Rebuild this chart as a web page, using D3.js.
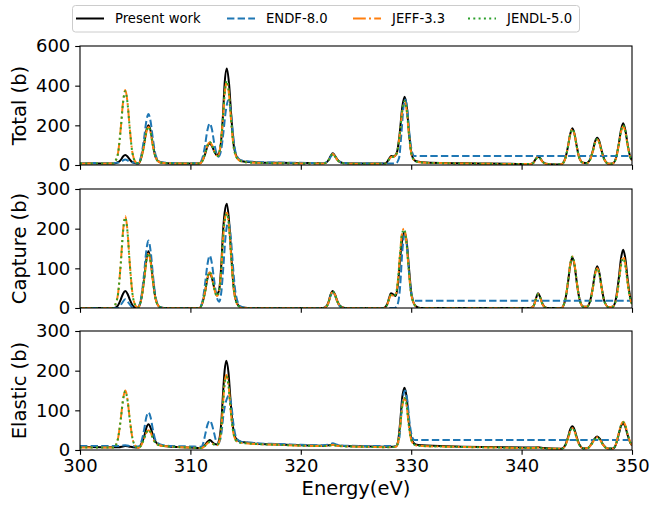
<!DOCTYPE html>
<html>
<head>
<meta charset="utf-8">
<script src="https://cdn.jsdelivr.net/npm/d3@7"></script>
<style>
  body { margin: 0; background: #fff; }
  svg { display: block; font-family: "DejaVu Sans", sans-serif; }
</style>
</head>
<body>
<svg id="chart" width="653" height="505"></svg>
<script>
// Axis ticks
const energyTicks = [300, 310, 320, 330, 340, 350];
const totalTicks = [0, 200, 400, 600];
const captureTicks = [0, 100, 200, 300];
const elasticTicks = [0, 100, 200, 300];

const seriesNames = ["Present work", "ENDF-8.0", "JEFF-3.3", "JENDL-5.0"];
const panelLabels = ["Total (b)", "Capture (b)", "Elastic (b)"];

// Cross sections, [energy (eV), barns]
const totalPresent = [[300,9],[302,8],[303.1,8],[303.45,14],[303.7,26],[303.9,43],[304.1,50],[304.3,43],[304.5,28],[304.75,14],[305.1,8],[305.3,7],[305.55,38],[305.8,104],[306.0,172],[306.2,201],[306.4,172],[306.6,104],[306.85,40],[307.2,15],[307.6,10],[308.5,8],[310,7],[310.8,7],[311.1,22],[311.35,58],[311.55,95],[311.75,109],[311.95,96],[312.15,70],[312.4,50],[312.6,60],[312.8,130],[312.95,250],[313.1,410],[313.3,487],[313.5,410],[313.7,250],[313.95,90],[314.3,32],[314.7,19],[315,16],[316,13],[318,11],[320,10],[322,9],[322.3,12],[322.5,24],[322.7,45],[322.9,59],[323.1,46],[323.3,28],[323.6,14],[324,9],[326,7],[327.6,7],[327.8,14],[328.0,32],[328.2,45],[328.45,44],[328.7,62],[328.95,155],[329.2,295],[329.4,344],[329.6,292],[329.8,165],[330.05,52],[330.4,20],[331,14],[333,10],[336,8],[339,6],[340.8,5],[341.1,14],[341.3,32],[341.5,42],[341.7,33],[341.9,17],[342.2,7],[343,3],[343.6,4],[343.95,32],[344.2,93],[344.4,155],[344.6,185],[344.8,155],[345.0,93],[345.25,32],[345.6,11],[345.9,10],[346.2,28],[346.45,72],[346.65,118],[346.85,138],[347.05,118],[347.25,72],[347.5,28],[347.9,6],[348.25,8],[348.55,35],[348.8,105],[349.0,176],[349.2,210],[349.4,176],[349.6,105],[349.85,40],[350,25]];
const totalEndf = [[300,10],[303,10],[303.5,12],[303.8,20],[304.1,28],[304.4,21],[304.8,12],[305.3,10],[305.55,48],[305.8,132],[306.0,218],[306.2,257],[306.4,218],[306.6,132],[306.85,50],[307.2,17],[307.6,12],[308.5,10],[310,9],[310.8,9],[311.05,28],[311.3,90],[311.55,178],[311.75,210],[311.95,180],[312.15,112],[312.35,62],[312.55,42],[312.8,80],[313.0,170],[313.2,270],[313.45,328],[313.65,272],[313.85,162],[314.1,62],[314.5,26],[315,19],[316,15],[318,12],[320,11],[322,10],[322.3,13],[322.5,23],[322.7,41],[322.9,55],[323.1,43],[323.3,27],[323.6,14],[324,10],[326,8],[328.6,8],[328.9,35],[329.1,150],[329.3,290],[329.45,330],[329.65,280],[329.85,150],[330.1,62],[330.3,45],[350,45]];
const totalJeff = [[300,8],[303,8],[303.2,20],[303.45,62],[303.7,190],[303.9,318],[304.1,378],[304.3,318],[304.5,190],[304.75,62],[305.05,14],[305.3,8],[305.55,36],[305.8,98],[306.0,163],[306.2,191],[306.4,163],[306.6,98],[306.85,38],[307.2,14],[307.6,10],[308.5,8],[310,7],[310.8,7],[311.1,23],[311.35,62],[311.55,100],[311.75,115],[311.95,101],[312.15,72],[312.35,49],[312.5,46],[312.75,110],[312.95,235],[313.1,355],[313.3,420],[313.5,355],[313.7,215],[313.95,80],[314.3,29],[314.7,17],[315,14],[316,11],[318,9],[320,8],[322,8],[322.3,11],[322.5,22],[322.7,42],[322.9,56],[323.1,43],[323.3,26],[323.6,13],[324,8],[326,6],[327.6,6],[327.8,12],[328.0,28],[328.2,40],[328.45,42],[328.7,60],[328.95,145],[329.2,275],[329.4,320],[329.6,272],[329.8,152],[330.05,48],[330.4,18],[331,12],[333,9],[336,7],[339,5],[340.8,5],[341.1,13],[341.3,30],[341.5,40],[341.7,31],[341.9,16],[342.2,6],[343,3],[343.6,4],[343.95,31],[344.2,92],[344.4,152],[344.6,180],[344.8,152],[345.0,92],[345.25,32],[345.6,10],[345.9,9],[346.2,26],[346.45,68],[346.65,110],[346.85,130],[347.05,110],[347.25,68],[347.5,26],[347.9,6],[348.25,8],[348.55,33],[348.8,100],[349.0,165],[349.2,195],[349.4,165],[349.6,100],[349.85,38],[350,24]];
const totalJendl = [[300,8],[303,8],[303.2,20],[303.45,60],[303.7,188],[303.9,314],[304.1,372],[304.3,314],[304.5,188],[304.75,60],[305.05,14],[305.3,8],[305.55,36],[305.8,98],[306.0,163],[306.2,192],[306.4,163],[306.6,98],[306.85,38],[307.2,14],[307.6,10],[308.5,8],[310,7],[310.8,7],[311.1,23],[311.35,62],[311.55,100],[311.75,116],[311.95,101],[312.15,72],[312.35,49],[312.5,46],[312.75,112],[312.95,238],[313.1,360],[313.3,425],[313.5,358],[313.7,216],[313.95,80],[314.3,29],[314.7,17],[315,14],[316,11],[318,9],[320,8],[322,8],[322.3,11],[322.5,22],[322.7,42],[322.9,56],[323.1,43],[323.3,26],[323.6,13],[324,8],[326,6],[327.6,6],[327.8,12],[328.0,28],[328.2,40],[328.45,42],[328.7,60],[328.95,146],[329.2,277],[329.4,322],[329.6,274],[329.8,153],[330.05,48],[330.4,18],[331,12],[333,9],[336,7],[339,5],[340.8,5],[341.1,13],[341.3,30],[341.5,40],[341.7,31],[341.9,16],[342.2,6],[343,3],[343.6,4],[343.95,31],[344.2,92],[344.4,153],[344.6,181],[344.8,153],[345.0,92],[345.25,32],[345.6,10],[345.9,9],[346.2,26],[346.45,68],[346.65,111],[346.85,131],[347.05,111],[347.25,68],[347.5,26],[347.9,6],[348.25,8],[348.55,34],[348.8,103],[349.0,169],[349.2,200],[349.4,169],[349.6,102],[349.85,38],[350,24]];

const capturePresent = [[300,0],[303.1,0],[303.45,7],[303.7,22],[303.9,36],[304.1,43],[304.3,36],[304.5,22],[304.75,7],[305.1,0],[305.25,1],[305.55,23],[305.8,72],[306.0,120],[306.2,143],[306.4,120],[306.6,72],[306.85,23],[307.2,3],[307.6,0],[310.8,0],[311.1,14],[311.35,44],[311.55,75],[311.75,88],[311.95,76],[312.15,52],[312.4,35],[312.6,45],[312.8,110],[312.95,190],[313.1,240],[313.3,263],[313.5,220],[313.7,135],[313.95,45],[314.3,8],[314.7,1],[315.2,0],[322,0],[322.3,4],[322.5,14],[322.7,34],[322.9,43],[323.1,34],[323.3,18],[323.6,4],[324,0],[327.5,0],[327.8,8],[328.0,25],[328.15,37],[328.4,34],[328.6,30],[328.8,60],[329.0,125],[329.2,175],[329.4,191],[329.6,165],[329.8,100],[330.05,30],[330.4,5],[330.8,0],[340.8,0],[341.1,6],[341.3,24],[341.5,37],[341.7,26],[341.9,10],[342.2,1],[342.5,0],[343.6,0],[343.95,20],[344.2,64],[344.4,107],[344.6,127],[344.8,107],[345.0,64],[345.25,22],[345.6,3],[345.9,3],[346.2,17],[346.45,52],[346.65,88],[346.85,105],[347.05,88],[347.25,52],[347.5,17],[347.9,2],[348.25,3],[348.55,24],[348.8,74],[349.0,124],[349.2,147],[349.4,124],[349.6,74],[349.85,26],[350,12]];
const captureEndf = [[300,0],[303.4,0],[303.6,4],[303.8,12],[304.1,22],[304.4,13],[304.7,3],[305.1,0],[305.25,1],[305.55,27],[305.8,85],[306.0,143],[306.2,170],[306.4,143],[306.6,85],[306.85,27],[307.2,3],[307.6,0],[310.8,0],[311.1,18],[311.35,66],[311.55,111],[311.75,132],[311.95,112],[312.15,70],[312.35,32],[312.6,16],[312.8,40],[313.0,110],[313.2,185],[313.45,217],[313.65,182],[313.85,108],[314.1,36],[314.5,5],[315,0],[322,0],[322.3,3],[322.5,12],[322.7,31],[322.9,40],[323.1,32],[323.3,16],[323.6,3],[324,0],[328.5,0],[328.8,12],[329.0,55],[329.2,145],[329.4,185],[329.6,160],[329.8,90],[330.05,32],[330.3,18],[350,18]];
const captureJeff = [[300,0],[303.1,0],[303.2,8],[303.45,37],[303.7,116],[303.9,195],[304.1,232],[304.3,195],[304.5,116],[304.75,37],[305.05,5],[305.25,1],[305.55,22],[305.8,69],[306.0,115],[306.2,137],[306.4,115],[306.6,69],[306.85,22],[307.2,3],[307.6,0],[310.8,0],[311.1,14],[311.35,45],[311.55,76],[311.75,90],[311.95,77],[312.15,50],[312.4,30],[312.6,42],[312.8,100],[312.95,170],[313.1,220],[313.3,240],[313.5,205],[313.7,125],[313.95,42],[314.3,7],[314.7,0],[322,0],[322.3,3],[322.5,13],[322.7,32],[322.9,41],[323.1,33],[323.3,17],[323.6,4],[324,0],[327.5,0],[327.8,7],[328.0,22],[328.15,33],[328.4,31],[328.6,35],[328.8,70],[329.0,140],[329.15,185],[329.35,200],[329.55,172],[329.75,105],[330.0,35],[330.4,5],[330.8,0],[340.8,0],[341.1,6],[341.3,22],[341.5,35],[341.7,25],[341.9,9],[342.2,1],[342.5,0],[343.6,0],[343.95,21],[344.2,65],[344.4,109],[344.6,130],[344.8,109],[345.0,65],[345.25,21],[345.6,3],[345.9,3],[346.2,16],[346.45,50],[346.65,84],[346.85,100],[347.05,84],[347.25,50],[347.5,16],[347.9,2],[348.25,3],[348.55,21],[348.8,65],[349.0,110],[349.2,130],[349.4,110],[349.6,65],[349.85,22],[350,10]];
const captureJendl = [[300,0],[303.1,0],[303.2,8],[303.45,36],[303.7,114],[303.9,192],[304.1,228],[304.3,192],[304.5,114],[304.75,36],[305.05,5],[305.25,1],[305.55,22],[305.8,69],[306.0,116],[306.2,138],[306.4,116],[306.6,69],[306.85,22],[307.2,3],[307.6,0],[310.8,0],[311.1,14],[311.35,45],[311.55,77],[311.75,91],[311.95,78],[312.15,50],[312.4,30],[312.6,42],[312.8,100],[312.95,170],[313.1,219],[313.3,238],[313.5,204],[313.7,125],[313.95,42],[314.3,7],[314.7,0],[322,0],[322.3,3],[322.5,13],[322.7,32],[322.9,41],[323.1,33],[323.3,17],[323.6,4],[324,0],[327.5,0],[327.8,7],[328.0,22],[328.15,33],[328.4,31],[328.6,35],[328.8,70],[329.0,140],[329.15,184],[329.35,198],[329.55,171],[329.75,105],[330.0,35],[330.4,5],[330.8,0],[340.8,0],[341.1,6],[341.3,22],[341.5,35],[341.7,25],[341.9,9],[342.2,1],[342.5,0],[343.6,0],[343.95,21],[344.2,65],[344.4,109],[344.6,130],[344.8,109],[345.0,65],[345.25,21],[345.6,3],[345.9,3],[346.2,16],[346.45,50],[346.65,84],[346.85,100],[347.05,84],[347.25,50],[347.5,16],[347.9,2],[348.25,3],[348.55,20],[348.8,63],[349.0,106],[349.2,125],[349.4,106],[349.6,63],[349.85,21],[350,10]];

const elasticPresent = [[300,8],[302,7],[303.5,7],[303.9,9],[304.1,10],[304.4,9],[304.8,7],[305.3,6],[305.55,15],[305.8,33],[306.0,55],[306.2,65],[306.4,56],[306.6,38],[306.85,21],[307.2,13],[307.6,10],[308.5,8],[310,6],[311,5],[311.3,12],[311.55,21],[311.75,25],[311.95,21],[312.2,15],[312.4,14],[312.6,25],[312.8,70],[312.95,140],[313.1,200],[313.25,225],[313.45,195],[313.65,120],[313.9,50],[314.2,26],[314.6,20],[315,19],[316,16],[318,14],[320,12],[322,11],[322.6,12],[322.9,14],[323.2,12],[324,10],[326,9],[328,8],[328.6,9],[328.8,20],[329.0,70],[329.2,135],[329.4,157],[329.6,130],[329.8,70],[330.05,26],[330.4,14],[331,12],[334,9],[338,7],[341,6],[341.5,7],[342,5],[343.6,3],[343.95,12],[344.2,32],[344.4,52],[344.6,60],[344.8,51],[345.0,32],[345.25,13],[345.6,4],[346.0,5],[346.3,14],[346.6,28],[346.85,34],[347.1,28],[347.4,13],[347.8,4],[348.3,4],[348.55,14],[348.8,40],[349.0,60],[349.2,67],[349.4,58],[349.6,38],[349.85,18],[350,12]];
const elasticEndf = [[300,10],[303.5,10],[304.1,12],[304.6,10],[305.3,9],[305.55,20],[305.8,50],[306.0,82],[306.2,95],[306.4,82],[306.6,52],[306.85,24],[307.2,15],[307.6,12],[308.5,10],[310,9],[311,8],[311.15,16],[311.35,40],[311.55,64],[311.75,74],[311.95,64],[312.15,42],[312.35,22],[312.55,18],[312.8,40],[313.0,90],[313.25,125],[313.5,138],[313.7,115],[313.9,65],[314.2,28],[314.6,21],[315,20],[316,17],[318,15],[320,13],[322,12],[322.6,14],[322.9,17],[323.2,14],[324,11],[326,10],[328.6,10],[328.9,25],[329.1,90],[329.3,140],[329.45,150],[329.65,125],[329.85,70],[330.1,32],[330.3,25],[350,25]];
const elasticJeff = [[300,6],[303.1,6],[303.25,12],[303.45,30],[303.7,80],[303.9,128],[304.1,150],[304.3,128],[304.5,80],[304.75,30],[305.05,9],[305.3,5],[305.55,12],[305.8,28],[306.0,43],[306.2,50],[306.4,44],[306.6,30],[306.85,17],[307.2,12],[307.6,10],[308.5,8],[310,6],[311,5],[311.3,10],[311.55,17],[311.75,20],[311.95,17],[312.2,13],[312.4,12],[312.6,20],[312.8,55],[312.95,115],[313.1,170],[313.25,189],[313.45,165],[313.65,100],[313.9,42],[314.2,22],[314.6,18],[315,17],[316,15],[318,13],[320,11],[322,10],[322.6,11],[322.9,13],[323.2,11],[324,9],[326,8],[328,7],[328.6,8],[328.8,18],[329.0,60],[329.2,112],[329.4,130],[329.6,108],[329.8,58],[330.05,22],[330.4,12],[331,10],[334,8],[338,6],[341,5],[341.5,6],[342,4],[343.6,3],[343.95,11],[344.2,29],[344.4,47],[344.6,55],[344.8,47],[345.0,29],[345.25,12],[345.6,4],[346.0,5],[346.3,13],[346.6,26],[346.85,32],[347.1,26],[347.4,12],[347.8,4],[348.3,4],[348.55,15],[348.8,42],[349.0,63],[349.2,71],[349.4,62],[349.6,40],[349.85,19],[350,12]];
const elasticJendl = [[300,6],[303.1,6],[303.25,12],[303.45,30],[303.7,79],[303.9,126],[304.1,148],[304.3,126],[304.5,79],[304.75,30],[305.05,9],[305.3,5],[305.55,12],[305.8,28],[306.0,43],[306.2,51],[306.4,44],[306.6,30],[306.85,17],[307.2,12],[307.6,10],[308.5,8],[310,6],[311,5],[311.3,10],[311.55,17],[311.75,20],[311.95,17],[312.2,13],[312.4,12],[312.6,20],[312.8,54],[312.95,113],[313.1,167],[313.25,185],[313.45,162],[313.65,99],[313.9,42],[314.2,22],[314.6,18],[315,17],[316,15],[318,13],[320,11],[322,10],[322.6,11],[322.9,13],[323.2,11],[324,9],[326,8],[328,7],[328.6,8],[328.8,18],[329.0,60],[329.2,113],[329.4,131],[329.6,109],[329.8,58],[330.05,22],[330.4,12],[331,10],[334,8],[338,6],[341,5],[341.5,6],[342,4],[343.6,3],[343.95,11],[344.2,29],[344.4,47],[344.6,56],[344.8,47],[345.0,29],[345.25,12],[345.6,4],[346.0,5],[346.3,13],[346.6,26],[346.85,32],[347.1,26],[347.4,12],[347.8,4],[348.3,4],[348.55,15],[348.8,41],[349.0,62],[349.2,70],[349.4,61],[349.6,40],[349.85,19],[350,12]];

// Line styles per evaluation (present work, ENDF, JEFF, JENDL)
const lineStyles = [
  { color: "#000000", dash: null },
  { color: "#1f77b4", dash: "7.4,3.2" },
  { color: "#ff7f0e", dash: "12.8,3.2,2,3.2" },
  { color: "#2ca02c", dash: "2,3.3" }
];

const svg = d3.select("#chart");
const plotLeft = 80, plotRight = 632, plotHeight = 119;
const panelTops = [46, 189, 331];
const tickLen = 4.8, tickPad = 4.9;
const tickFont = "18px", labelFont = "19.5px";

const x = d3.scaleLinear().domain([300, 350]).range([plotLeft, plotRight]);

const panels = [
  { label: panelLabels[0], ticks: totalTicks, series: [totalPresent, totalEndf, totalJeff, totalJendl] },
  { label: panelLabels[1], ticks: captureTicks, series: [capturePresent, captureEndf, captureJeff, captureJendl] },
  { label: panelLabels[2], ticks: elasticTicks, series: [elasticPresent, elasticEndf, elasticJeff, elasticJendl] }
];

panels.forEach((p, i) => {
  const top = panelTops[i];
  const bottom = top + plotHeight;
  const y = d3.scaleLinear().domain([0, d3.max(p.ticks)]).range([bottom, top]);
  const g = svg.append("g");

  const clipId = "clip" + i;
  svg.append("clipPath").attr("id", clipId)
    .append("rect").attr("x", plotLeft).attr("y", top)
    .attr("width", plotRight - plotLeft).attr("height", plotHeight);

  const line = d3.line()
    .x(d => x(d[0]))
    .y(d => y(d[1]))
    .curve(d3.curveMonotoneX);

  const lines = g.append("g").attr("clip-path", `url(#${clipId})`);
  p.series.forEach((s, k) => {
    lines.append("path")
      .attr("d", line(s))
      .attr("fill", "none")
      .attr("stroke", lineStyles[k].color)
      .attr("stroke-width", 2)
      .attr("stroke-dasharray", lineStyles[k].dash)
      .attr("stroke-linejoin", "round");
  });

  // y axis
  const yAxis = d3.axisLeft(y).tickValues(p.ticks).tickFormat(d3.format("d"))
    .tickSizeInner(tickLen).tickSizeOuter(0).tickPadding(tickPad);
  const ya = g.append("g").attr("transform", `translate(${plotLeft},0)`).call(yAxis);
  ya.select(".domain").remove();
  ya.selectAll("line").attr("stroke", "#000").attr("stroke-width", 1.1);
  ya.selectAll("text").attr("font-size", tickFont).attr("fill", "#000")
    .attr("font-family", "DejaVu Sans, sans-serif");

  // x axis (labels only on the bottom panel)
  const xAxis = d3.axisBottom(x).tickValues(energyTicks)
    .tickFormat(i === panels.length - 1 ? d3.format("d") : () => "")
    .tickSizeInner(tickLen).tickSizeOuter(0).tickPadding(tickPad);
  const xa = g.append("g").attr("transform", `translate(0,${bottom})`).call(xAxis);
  xa.select(".domain").remove();
  xa.selectAll("line").attr("stroke", "#000").attr("stroke-width", 1.1);
  xa.selectAll("text").attr("font-size", tickFont).attr("fill", "#000")
    .attr("font-family", "DejaVu Sans, sans-serif");

  // frame
  g.append("rect")
    .attr("x", plotLeft).attr("y", top)
    .attr("width", plotRight - plotLeft).attr("height", plotHeight)
    .attr("fill", "none").attr("stroke", "#000").attr("stroke-width", 1.1);

  // y label
  g.append("text")
    .attr("transform", `translate(26,${(top + bottom) / 2}) rotate(-90)`)
    .attr("text-anchor", "middle")
    .attr("font-size", labelFont)
    .attr("fill", "#000")
    .text(p.label);
});

// x label
svg.append("text")
  .attr("x", (plotLeft + plotRight) / 2)
  .attr("y", 495)
  .attr("text-anchor", "middle")
  .attr("font-size", labelFont)
  .attr("fill", "#000")
  .text("Energy(eV)");

// legend
const legend = svg.append("g");
legend.append("rect")
  .attr("x", 72.5).attr("y", 5.5).attr("width", 507).attr("height", 26.5)
  .attr("rx", 3).attr("fill", "#fff").attr("stroke", "#cccccc").attr("stroke-width", 1);
const legendTextX = [115, 266, 392, 507];
seriesNames.forEach((name, k) => {
  const tx = legendTextX[k];
  legend.append("line")
    .attr("x1", tx - 39).attr("x2", tx - 11)
    .attr("y1", 18.5).attr("y2", 18.5)
    .attr("stroke", lineStyles[k].color)
    .attr("stroke-width", 2)
    .attr("stroke-dasharray", lineStyles[k].dash);
  legend.append("text")
    .attr("x", tx).attr("y", 23)
    .attr("font-size", "13.2px")
    .attr("fill", "#000")
    .text(name);
});
</script>
</body>
</html>
